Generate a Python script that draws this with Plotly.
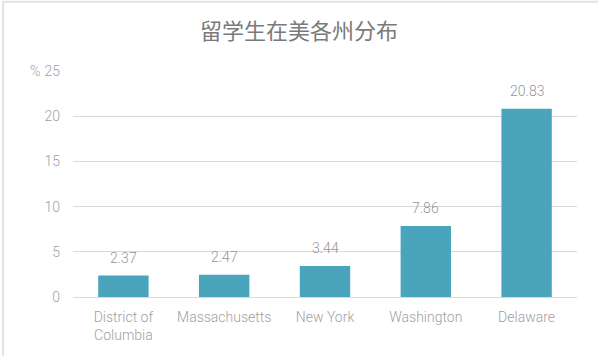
import plotly.graph_objects as go

categories = ["District of<br>Columbia", "Massachusetts", "New York", "Washington", "Delaware"]
values = [2.37, 2.47, 3.44, 7.86, 20.83]
value_labels = ["2.37", "2.47", "3.44", "7.86", "20.83"]
y_ticks = [0, 5, 10, 15, 20, 25]
title_text = "留学生在美各州分布"
unit_text = "%"

W, H = 598, 356
L, R, T, B = 73, 20.5, 70.5, 58.7
pw = W - L - R
ph = H - T - B

def px_to_paper_x(px):
    return (px - L) / pw

def px_to_paper_y(py):
    return (H - B - py) / ph

font_family = "Roboto, 'Noto Sans CJK SC', sans-serif"

fig = go.Figure()
fig.add_trace(go.Bar(
    x=categories,
    y=values,
    marker=dict(color="#4AA5BC", line=dict(width=0)),
    width=0.5,
    hoverinfo="x+y",
))

annotations = []
for c, v, t in zip(categories, values, value_labels):
    annotations.append(dict(
        x=c, y=v, xref="x", yref="y", text=t, showarrow=False,
        yanchor="bottom", yshift=8,
        font=dict(family=font_family, size=14, color="#959595", weight=300),
    ))
annotations.append(dict(
    x=px_to_paper_x(35), y=25, xref="paper", yref="y", text=unit_text,
    showarrow=False, xanchor="center", yanchor="middle",
    font=dict(family=font_family, size=14, color="#9f9f9f", weight=300),
))
annotations.append(dict(
    x=px_to_paper_x(299.5), y=px_to_paper_y(28), xref="paper", yref="paper",
    text=title_text, showarrow=False, xanchor="center", yanchor="middle",
    font=dict(family="'Noto Sans CJK SC', sans-serif", size=22, color="#7a7a7a"),
))

fig.update_layout(
    width=W, height=H,
    margin=dict(l=L, r=R, t=T, b=B, pad=0),
    paper_bgcolor="white",
    plot_bgcolor="white",
    showlegend=False,
    bargap=0.5,
    annotations=annotations,
    shapes=[dict(
        type="rect", xref="paper", yref="paper",
        x0=px_to_paper_x(3), x1=px_to_paper_x(610),
        y0=px_to_paper_y(370), y1=px_to_paper_y(1),
        line=dict(color="#e2e2e2", width=2), fillcolor="rgba(0,0,0,0)",
        layer="below",
    )],
    xaxis=dict(
        showgrid=False, showline=False, zeroline=False, ticks="",
        tickfont=dict(family=font_family, size=14, color="#9f9f9f", weight=300),
        ticklabelstandoff=10,
    ),
    yaxis=dict(
        range=[0, 25], tickvals=y_ticks, ticks="",
        showgrid=True, gridcolor="#d9d9d9", gridwidth=1,
        zeroline=True, zerolinecolor="#d9d9d9", zerolinewidth=1,
        showline=False,
        tickfont=dict(family=font_family, size=14, color="#9f9f9f", weight=300),
        ticklabelstandoff=12,
    ),
)

fig.write_html(
    "out.html",
    config={"displayModeBar": False},
    post_script="document.body.style.margin='0';document.body.style.padding='0';",
)
